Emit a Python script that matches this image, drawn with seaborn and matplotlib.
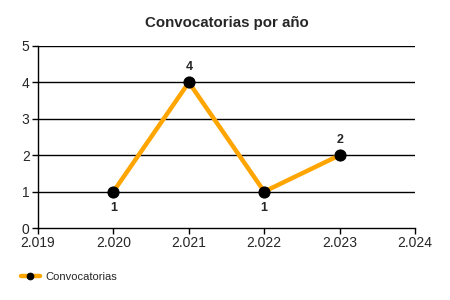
import matplotlib
matplotlib.use("Agg")
import matplotlib.pyplot as plt
import seaborn as sns
import pandas as pd

years = [2020, 2021, 2022, 2023]
values = [1, 4, 1, 2]
label_pos = ["below", "above", "below", "above"]
x_ticks = [2019, 2020, 2021, 2022, 2023, 2024]
x_tick_labels = ["2.019", "2.020", "2.021", "2.022", "2.023", "2.024"]
y_ticks = [0, 1, 2, 3, 4, 5]
series_name = "Convocatorias"
title = "Convocatorias por año"

sns.set_style("white")
plt.rcParams['font.family'] = ['Liberation Sans', 'DejaVu Sans']

df = pd.DataFrame({"year": years, "value": values})

fig = plt.figure(figsize=(4.5, 3), dpi=100)
ax = fig.add_axes([0.0844, 0.24, 0.838, 0.6067])

for y in y_ticks[1:]:
    ax.axhline(y, color="black", lw=1.0, zorder=1)

sns.lineplot(data=df, x="year", y="value", ax=ax, color="#FFA500", lw=3.2,
             marker="o", markersize=8, markerfacecolor="black",
             markeredgecolor="black", label=series_name, zorder=3)

for xv, yv, pos in zip(years, values, label_pos):
    off = 11 if pos == "above" else -12
    ax.annotate(str(yv), (xv, yv), xytext=(0, off), textcoords="offset points",
                ha="center", va="center", fontsize=9, fontweight="bold")

ax.set_xlim(2019, 2024)
ax.set_ylim(0, 5)
ax.set_xticks(x_ticks)
ax.set_xticklabels(x_tick_labels, fontsize=10)
ax.set_yticks(y_ticks)
ax.set_yticklabels([str(v) for v in y_ticks], fontsize=10)
ax.set_xlabel("")
ax.set_ylabel("")
for s in ["top", "right"]:
    ax.spines[s].set_visible(False)
for s in ["left", "bottom"]:
    ax.spines[s].set_color("black")
    ax.spines[s].set_linewidth(1.0)
ax.tick_params(axis="both", which="major", direction="out", length=4,
               width=1, color="black", pad=2, bottom=True, left=True)

ax.set_title(title, fontsize=10.8, fontweight="bold", pad=14)

leg = ax.legend(loc="center left", bbox_to_anchor=(-0.045, -0.27), frameon=False,
                fontsize=8, handlelength=1.7, handletextpad=0.5, borderpad=0,
                borderaxespad=0, markerscale=0.6)
fig.savefig("out.png", dpi=100)
